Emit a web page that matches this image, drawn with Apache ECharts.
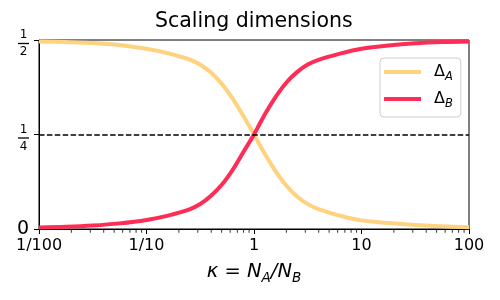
<!DOCTYPE html>
<html>
<head>
<meta charset="utf-8">
<script src="https://cdn.jsdelivr.net/npm/echarts@6/dist/echarts.min.js"></script>
<style>html,body{margin:0;padding:0;background:#fff}#c{width:500px;height:300px}</style>
</head>
<body>
<div id="c"></div>
<script>
// ---- data ----
const kappa  = [0.01, 0.01778, 0.03162, 0.05623, 0.1, 0.1585, 0.2512, 0.3162, 0.3981, 0.5012, 0.631, 0.7943, 1, 1.259, 1.585, 1.995, 2.512, 3.162, 3.981, 6.31, 10, 17.78, 31.62, 56.23, 100];
const deltaA = [0.4963, 0.4946, 0.4922, 0.487, 0.477, 0.465, 0.4484, 0.4347, 0.4138, 0.384, 0.3455, 0.2994, 0.25, 0.199, 0.1534, 0.115, 0.0857, 0.0658, 0.0526, 0.035, 0.0228, 0.0158, 0.0107, 0.0072, 0.0046];
const deltaB = [0.0042, 0.0059, 0.0092, 0.0149, 0.024, 0.0355, 0.052, 0.066, 0.088, 0.117, 0.156, 0.203, 0.25, 0.303, 0.349, 0.387, 0.415, 0.435, 0.4475, 0.464, 0.477, 0.4856, 0.4914, 0.4946, 0.4963];
const seriesNames = ['ΔA', 'ΔB'];
const xTickValues = [0.01, 0.1, 1, 10, 100];
const xTickLabels = ['1/100', '1/10', '1', '10', '100'];
const yTickValues = [0, 0.25, 0.5];
const yTickLabels = ['0', '1/4', '1/2'];
const refLine = 0.25;
const minorDecades = [0.01, 0.1, 1, 10];
const minorMults = [2, 3, 4, 5, 6, 7, 8, 9];

const minorKappa = [];
minorDecades.forEach(d => minorMults.forEach(m => minorKappa.push(d * m)));

const FF = 'DejaVu Sans';
const chart = echarts.init(document.getElementById('c'), null, {renderer: 'canvas'});

function xFmt(v) {
  for (let i = 0; i < xTickValues.length; i++) {
    if (Math.abs(Math.log10(v) - Math.log10(xTickValues[i])) < 1e-6) return xTickLabels[i];
  }
  return '';
}
function yFmt(v) {
  for (let i = 0; i < yTickValues.length; i++) {
    if (Math.abs(v - yTickValues[i]) < 1e-9) {
      const s = yTickLabels[i];
      if (s.indexOf('/') < 0) return '{z|' + s + '}';
      const p = s.split('/');
      return '{n|' + p[0] + '}\n{b|}\n{d|' + p[1] + '}';
    }
  }
  return '';
}

chart.setOption({
  animation: false,
  backgroundColor: '#fff',
  title: {
    text: 'Scaling dimensions',
    left: 155, top: 11, padding: 0,
    textStyle: {fontFamily: FF, fontSize: 20.5, fontWeight: 'normal', color: '#000'}
  },
  grid: {left: 39, right: 31, top: 40, bottom: 71, show: true, borderColor: '#000', borderWidth: 1, backgroundColor: 'transparent'},
  legend: {
    data: seriesNames,
    orient: 'vertical',
    left: 380, top: 58,
    padding: [6, 8, 7, 4],
    itemGap: 8,
    icon: 'rect',
    itemWidth: 37, itemHeight: 4,
    backgroundColor: 'rgba(255,255,255,0.8)',
    borderColor: '#cccccc', borderWidth: 1, borderRadius: 4,
    formatter: name => '{d|' + name[0] + '}{s|' + name.slice(1) + '}',
    textStyle: {
      fontFamily: FF, color: '#000',
      rich: {
        d: {fontFamily: FF, fontSize: 16, color: '#000', padding: [0, 0, 0, 8]},
        s: {fontFamily: FF, fontSize: 11.5, fontStyle: 'italic', color: '#000', padding: [10, 0, 0, 0]}
      }
    }
  },
  xAxis: {
    type: 'log', logBase: 10, min: 0.01, max: 100,
    name: '{i|κ = N}{s|A}{i|/N}{s|B}',
    nameLocation: 'middle', nameGap: 30,
    nameTextStyle: {
      rich: {
        i: {fontFamily: FF, fontSize: 19.5, fontStyle: 'italic', color: '#000'},
        s: {fontFamily: FF, fontSize: 13.5, fontStyle: 'italic', color: '#000', padding: [12, 0, 0, 0]}
      }
    },
    axisLine: {show: true, onZero: false, lineStyle: {color: '#000', width: 1}},
    axisTick: {show: true, length: 5, lineStyle: {color: '#000', width: 1}},
    axisLabel: {formatter: xFmt, fontFamily: FF, fontSize: 16, color: '#000', margin: 9},
    splitLine: {show: false}, minorTick: {show: false}
  },
  yAxis: {
    type: 'value', min: 0, max: 0.5, interval: 0.25,
    axisLine: {show: true, onZero: false, lineStyle: {color: '#000', width: 1}},
    axisTick: {show: true, length: 5, lineStyle: {color: '#000', width: 1}},
    splitLine: {show: false},
    axisLabel: {
      formatter: yFmt, margin: 10, color: '#000',
      rich: {
        z: {fontFamily: FF, fontSize: 19, color: '#000'},
        n: {fontFamily: FF, fontSize: 12, color: '#000', align: 'center', padding: [7, 0, 0, 0]},
        b: {width: 11, height: 1.3, lineHeight: 5, backgroundColor: '#000', align: 'center'},
        d: {fontFamily: FF, fontSize: 12, color: '#000', align: 'center'}
      }
    }
  },
  series: [{
    name: seriesNames[0], type: 'line',
    data: kappa.map((k, i) => [k, deltaA[i]]),
    showSymbol: false, symbol: 'none', smooth: 0.3,
    lineStyle: {color: '#ffd280', width: 4},
    itemStyle: {color: '#ffd280'}, z: 2
  }, {
    name: seriesNames[1], type: 'line',
    data: kappa.map((k, i) => [k, deltaB[i]]),
    showSymbol: false, symbol: 'none', smooth: 0.3,
    lineStyle: {color: '#ff2d55', width: 4},
    itemStyle: {color: '#ff2d55'}, z: 3
  }, {
    name: 'ref', type: 'line', data: [], z: 4,
    markLine: {
      silent: true, symbol: 'none', label: {show: false},
      lineStyle: {color: '#000', type: [5.5, 2.4], width: 1.6},
      data: [{yAxis: refLine}]
    }
  }, {
    name: 'minorTicks', type: 'scatter', silent: true, clip: false, z: 5,
    data: minorKappa.map(k => [k, 0]),
    symbol: 'rect', symbolSize: [1, 3.2], symbolOffset: [0, 2.1],
    itemStyle: {color: '#000'}
  }]
});
</script>
</body>
</html>
